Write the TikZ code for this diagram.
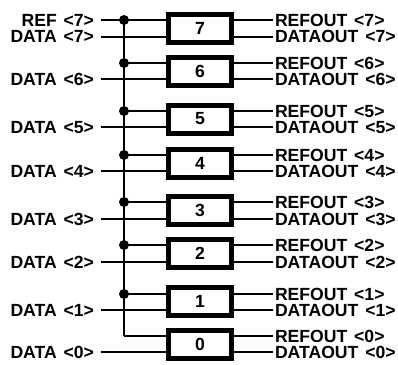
\documentclass[tikz,border=0pt]{standalone}
\usepackage{fontspec}
\setmainfont{Liberation Sans}[WordSpace={1.4,1,1}]
\tikzset{
  wire/.style={line width=2pt,line cap=butt},
  slice/.style={draw,line width=5pt,fill=white,minimum width=63pt,minimum height=28pt,inner sep=0pt,outer sep=0pt,font=\fontsize{17.6}{17.6}\selectfont\bfseries},
  lbl/.style={inner sep=0pt,outer sep=0pt,font=\fontsize{17.6}{17.6}\selectfont\bfseries},
  busdot/.style={circle,fill=black,minimum size=10pt,inner sep=0pt,outer sep=0pt}
}
\begin{document}
\begin{tikzpicture}[x=1pt,y=-1pt]
\useasboundingbox (0,0) rectangle (398,364);
% n / ref y / data y / box centre y
\foreach \n/\r/\d/\c in {7/20/36.5/28.5,6/63/79/71.5,5/111/127/119,4/155/171/163.5,3/202/219/210.5,2/245/262/253.5,1/294/310/301.5,0/336/352/344.5}{
  \node[slice] (box\n) at (200,\c) {\n};
  \coordinate (bus\n) at (124,\r);
  \coordinate (din\n) at (101,\d);
  \coordinate (rout\n) at (273,\r);
  \coordinate (dout\n) at (273,\d);
  \node[lbl,anchor=base west] (routl\n) at (275,\r+6.3) {REFOUT <\n>};
  \node[lbl,anchor=base west] (doutl\n) at (275,\d+6.3) {DATAOUT <\n>};
  \node[lbl,anchor=base east] (dinl\n) at (94,\d+6.3) {DATA <\n>};
  \draw[wire] (bus\n) -- (bus\n -| box\n.west);
  \draw[wire] (din\n) -- (din\n -| box\n.west);
  \draw[wire] (rout\n -| box\n.east) -- (rout\n);
  \draw[wire] (dout\n -| box\n.east) -- (dout\n);
}
\coordinate (refin) at (101,20);
\node[lbl,anchor=base east] (refl) at (94,26.3) {REF <7>};
\draw[wire] (refin) -- (bus7);
\draw[wire] (bus7) -- (bus0);
\foreach \n in {7,6,5,4,3,2,1}{
  \node[busdot] (dot\n) at (bus\n) {};
}
\end{tikzpicture}
\end{document}
